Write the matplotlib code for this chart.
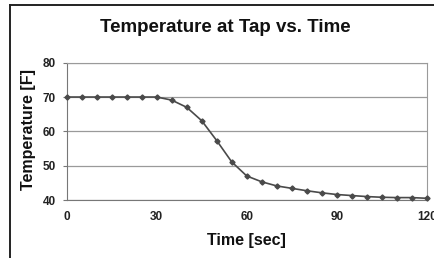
import matplotlib
matplotlib.use('Agg')
import matplotlib.pyplot as plt
from matplotlib.lines import Line2D

time_sec = [0, 5, 10, 15, 20, 25, 30, 35, 40, 45, 50, 55, 60, 65, 70, 75, 80,
            85, 90, 95, 100, 105, 110, 115, 120]
temp_f = [70, 70, 70, 70, 70, 70, 70, 69.1, 67, 63.1, 57.3, 51.1, 47, 45.3, 44.1,
          43.4, 42.7, 42.1, 41.6, 41.3, 41.0, 40.8, 40.7, 40.7, 40.5]
x_ticks = [0, 30, 60, 90, 120]
y_ticks = [40, 50, 60, 70, 80]

plt.rcParams['font.family'] = ['Liberation Sans', 'DejaVu Sans']

fig = plt.figure(figsize=(4.34, 2.58), dpi=100)
ax = fig.add_axes([0.1537, 0.2248, 0.8296, 0.5322])

# outer frame of the chart (scanned, cut at right and bottom)
fig.add_artist(Line2D([10/434, 10/434], [0, 1 - 5/258], transform=fig.transFigure,
                      color='#222222', lw=1.4))
fig.add_artist(Line2D([10/434, 1], [1 - 5/258, 1 - 5/258], transform=fig.transFigure,
                      color='#222222', lw=1.4))

ax.plot(time_sec, temp_f, '-D', color='#4a4a4a', lw=1.2, ms=2.6, zorder=3, clip_on=False)

ax.set_xlim(0, 120)
ax.set_ylim(40, 80)
ax.set_xticks(x_ticks)
ax.set_yticks(y_ticks)
ax.yaxis.grid(True, color='#9a9a9a', lw=0.9)
ax.set_axisbelow(True)
for s in ['top', 'right']:
    ax.spines[s].set_color('#9a9a9a')
for s in ['left', 'bottom']:
    ax.spines[s].set_color('#777777')
ax.tick_params(axis='y', length=3, color='#777777', labelsize=8.5, pad=5)
ax.tick_params(axis='x', length=0, labelsize=8.5, pad=8)
for lab in ax.get_xticklabels() + ax.get_yticklabels():
    lab.set_fontweight('bold')
    lab.set_color('#222222')

fig.text(0.52, 1 - 27/258, 'Temperature at Tap vs. Time', ha='center', va='center',
         fontsize=13.5, fontweight='bold', color='#111111')
fig.text(0.567, 1 - 240/258, 'Time [sec]', ha='center', va='center',
         fontsize=11.5, fontweight='bold', color='#111111')
fig.text(28/434, 1 - 129/258, 'Temperature [F]', ha='center', va='center',
         rotation=90, fontsize=11.5, fontweight='bold', color='#111111')

fig.savefig('out.png', dpi=100)
